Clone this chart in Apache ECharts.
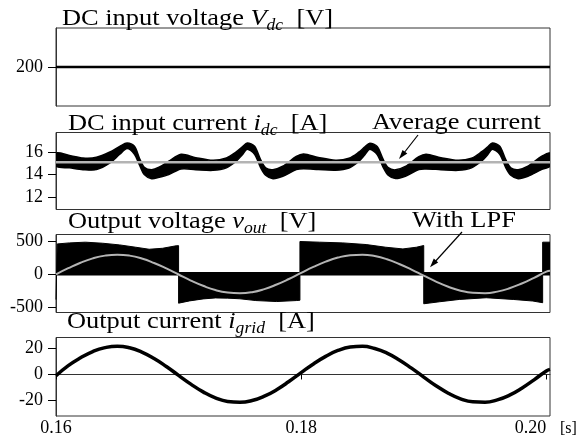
<!DOCTYPE html>
<html>
<head>
<meta charset="utf-8">
<script src="https://cdn.jsdelivr.net/npm/echarts@6/dist/echarts.min.js"></script>
<style>
html, body { margin: 0; padding: 0; background: #fff; }
#main { width: 579px; height: 445px; }
</style>
</head>
<body>
<div id="main"></div>
<script>
// time axis [s]
var xTicks = [0.16, 0.18, 0.20];

// DC input voltage
var vdcTime = [0.16, 0.2003];
var vdcValue = [200, 200];

// DC input current: upper / lower edge of the ripple band, plus average
var idcTime = [
	0.1600, 0.1611, 0.1622, 0.1633, 0.1644, 0.1652, 0.1658, 0.1664, 0.1668, 0.1672, 0.1678, 0.1684, 0.1692,
	0.1702, 0.1714, 0.1728, 0.1739, 0.1747, 0.1752, 0.1756, 0.1762, 0.1767, 0.1771, 0.1777, 0.1785, 0.1796,
	0.1802, 0.1814, 0.1828, 0.1839, 0.1847, 0.1852, 0.1856, 0.1862, 0.1867, 0.1871, 0.1877, 0.1885, 0.1896,
	0.1902, 0.1914, 0.1928, 0.1939, 0.1947, 0.1952, 0.1956, 0.1962, 0.1967, 0.1971, 0.1977, 0.1985, 0.1996,
	0.2003
];
var idcUpper = [
	15.90, 15.70, 15.47, 15.53, 16.00, 16.50, 16.80, 16.50, 15.47, 14.65, 14.44, 14.65, 15.18,
	15.80, 15.50, 15.26, 15.47, 16.00, 16.45, 16.80, 16.50, 15.30, 14.60, 14.44, 14.74, 15.60,
	15.82, 15.52, 15.28, 15.45, 15.98, 16.45, 16.78, 16.48, 15.32, 14.62, 14.42, 14.72, 15.58,
	15.80, 15.50, 15.27, 15.46, 16.00, 16.44, 16.80, 16.50, 15.30, 14.60, 14.44, 14.74, 15.60,
	15.90
];
var idcLower = [
	14.75, 14.60, 14.44, 14.44, 15.03, 15.80, 16.30, 15.80, 14.88, 14.00, 13.64, 13.76, 14.00,
	14.50, 14.44, 14.38, 14.60, 15.18, 15.75, 16.25, 15.80, 14.60, 13.94, 13.64, 13.85, 14.44,
	14.52, 14.45, 14.38, 14.58, 15.16, 15.75, 16.24, 15.78, 14.62, 13.95, 13.65, 13.86, 14.45,
	14.50, 14.44, 14.38, 14.60, 15.18, 15.74, 16.25, 15.80, 14.60, 13.94, 13.64, 13.85, 14.44,
	14.75
];
var idcAverage = 15.1;

// Output voltage: envelope of the PWM pulses (filled to 0)
var voutTime = [
	0.1600, 0.1601, 0.1601, 0.1611, 0.1624, 0.1638, 0.1652, 0.1665, 0.1676, 0.1687, 0.1698, 0.1700,
	0.1700, 0.1709, 0.1720, 0.1730, 0.1740, 0.1750, 0.1763, 0.1780, 0.1796, 0.1799,
	0.1799, 0.1815, 0.1834, 0.1853, 0.1869, 0.1883, 0.1894, 0.1900,
	0.1900, 0.1913, 0.1929, 0.1951, 0.1973, 0.1989, 0.1997,
	0.1997, 0.2003
];
var voutValue = [
	-390, -390, 458, 474, 485, 469, 443, 408, 377, 392, 430, 432,
	-445, -410, -380, -365, -368, -378, -405, -420, -405, -400,
	495, 485, 474, 449, 408, 382, 408, 434,
	-454, -423, -388, -362, -388, -412, -438,
	485, 485
];

// sampled sine-like waves (LPF output voltage and grid current)
var waveTime = [
	0.160, 0.161, 0.162, 0.163, 0.164, 0.165, 0.166, 0.167, 0.168, 0.169,
	0.170, 0.171, 0.172, 0.173, 0.174, 0.175, 0.176, 0.177, 0.178, 0.179,
	0.180, 0.181, 0.182, 0.183, 0.184, 0.185, 0.186, 0.187, 0.188, 0.189,
	0.190, 0.191, 0.192, 0.193, 0.194, 0.195, 0.196, 0.197, 0.198, 0.199,
	0.200, 0.2003
];
var lpfValue = [
	-5, 88, 172, 238, 280, 295, 280, 236, 168, 85,
	-8, -100, -180, -245, -283, -294, -277, -230, -160, -76,
	17, 108, 188, 250, 286, 294, 273, 225, 153, 68,
	-25, -116, -194, -254, -287, -293, -269, -218, -145, -58,
	35, 49
];
var igridValue = [
	-1, 6.7, 12.7, 17.5, 20.5, 21.6, 20.4, 17.1, 12.2, 6.1,
	-0.7, -7.4, -13.3, -17.9, -20.6, -21.2, -19.9, -16.6, -11.6, -5.4,
	1.4, 8.0, 13.8, 18.3, 20.9, 21.5, 19.8, 16.3, 11.1, 4.8,
	-2.0, -8.6, -14.3, -18.6, -20.9, -21.2, -19.4, -15.8, -10.5, -4.1,
	2.7, 3.9
];

function pairs(xs, ys) {
	return xs.map(function (x, i) { return [x, ys[i]]; });
}

var serif = '"Liberation Serif", "Times New Roman", serif';
var chart = echarts.init(document.getElementById('main'));

var grids = [
	{ top: 28, height: 78 },
	{ top: 132.5, height: 77 },
	{ top: 234.5, height: 78 },
	{ top: 337.5, height: 78.5 }
];
var yRanges = [
	{ min: 150, max: 250, ticks: [200] },
	{ min: 10.92, max: 17.72, ticks: [12, 14, 16] },
	{ min: -587, max: 602, ticks: [-500, 0, 500] },
	{ min: -31.7, max: 28.2, ticks: [-20, 0, 20] }
];

var titleRich = {
	n: { fontFamily: serif, fontSize: 24, lineHeight: 28, color: '#000' },
	v: { fontFamily: serif, fontSize: 24, fontStyle: 'italic', lineHeight: 28, color: '#000' },
	s: { fontFamily: serif, fontSize: 16, fontStyle: 'italic', lineHeight: 28, padding: [14, 0, 0, 0], color: '#000' }
};
function title(x, y, text) {
	return {
		type: 'text', x: x, y: y, scaleX: 1.1, z: 100,
		style: { text: text, rich: titleRich, verticalAlign: 'middle', align: 'left' }
	};
}

// ripple band of the DC current, drawn as one polygon through the axis scales
function renderBand(params, api) {
	var top = idcTime.map(function (t, i) { return api.coord([t, idcUpper[i]]); });
	var bottom = idcTime.map(function (t, i) { return api.coord([t, idcLower[i]]); }).reverse();
	return {
		type: 'polygon',
		shape: { points: top.concat(bottom), smooth: 0.3 },
		style: { fill: '#000', stroke: '#000', lineWidth: 1.5 }
	};
}

var option = {
	animation: false,
	backgroundColor: '#fff',
	grid: grids.map(function (g) {
		return {
			left: 56, right: 29, top: g.top, height: g.height,
			show: true, borderColor: '#333', borderWidth: 1, backgroundColor: 'transparent'
		};
	}),
	xAxis: grids.map(function (g, i) {
		var last = i === grids.length - 1;
		return {
			type: 'value', gridIndex: i, min: 0.16, max: 0.2003,
			show: last,
			axisLine: { show: true, lineStyle: { color: '#333', width: 1 } },
			axisTick: { show: last, customValues: xTicks, length: 5, lineStyle: { color: '#000' } },
			axisLabel: {
				show: last, customValues: xTicks, margin: 3, alignMaxLabel: 'right',
				fontFamily: serif, fontSize: 18, color: '#000',
				formatter: function (v) { return v.toFixed(2); }
			},
			splitLine: { show: false }
		};
	}),
	yAxis: yRanges.map(function (r, i) {
		return {
			type: 'value', gridIndex: i, min: r.min, max: r.max,
			axisLine: { show: true, lineStyle: { color: '#333', width: 1 } },
			axisTick: { show: true, customValues: r.ticks, length: 8, lineStyle: { color: '#000' } },
			axisLabel: { customValues: r.ticks, margin: 13, fontFamily: serif, fontSize: 18, color: '#000' },
			splitLine: { show: false }
		};
	}),
	series: [
		{
			type: 'line', xAxisIndex: 0, yAxisIndex: 0, showSymbol: false,
			data: pairs(vdcTime, vdcValue),
			lineStyle: { color: '#000', width: 2.5 }
		},
		{
			type: 'custom', xAxisIndex: 1, yAxisIndex: 1, clip: true,
			data: [[0.16, idcAverage]],
			renderItem: renderBand
		},
		{
			type: 'line', xAxisIndex: 1, yAxisIndex: 1, showSymbol: false, z: 5,
			data: [[0.16, idcAverage], [0.2003, idcAverage]],
			lineStyle: { color: '#b4b4b4', width: 2.5 }
		},
		{
			type: 'line', xAxisIndex: 2, yAxisIndex: 2, showSymbol: false,
			data: [[0.16, 5], [0.2003, 5]],
			lineStyle: { color: '#000', width: 3.5 }
		},
		{
			type: 'line', xAxisIndex: 2, yAxisIndex: 2, showSymbol: false,
			data: pairs(voutTime, voutValue),
			lineStyle: { color: '#000', width: 1 },
			areaStyle: { color: '#000', opacity: 1, origin: 0 }
		},
		{
			type: 'line', xAxisIndex: 2, yAxisIndex: 2, showSymbol: false, smooth: true, z: 5,
			data: pairs(waveTime, lpfValue),
			lineStyle: { color: '#b4b4b4', width: 2 }
		},
		{
			type: 'line', xAxisIndex: 3, yAxisIndex: 3, showSymbol: false, smooth: true,
			data: pairs(waveTime, igridValue),
			lineStyle: { color: '#000', width: 3.5 }
		}
	],
	graphic: [
		title(62, 19, '{n|DC input voltage }{v|V}{s|dc}{n|  [V]}'),
		title(68, 123.5, '{n|DC input current }{v|i}{s|dc}{n|  [A]}'),
		title(68, 222, '{n|Output voltage }{v|v}{s|out}{n|  [V]}'),
		title(67, 322, '{n|Output current }{v|i}{s|grid}{n|  [A]}'),
		title(372, 123, '{n|Average current}'),
		title(412, 221, '{n|With LPF}'),
		{ type: 'line', z: 100, shape: { x1: 418, y1: 135, x2: 402, y2: 155.5 }, style: { stroke: '#000', lineWidth: 1.2 } },
		{ type: 'polygon', z: 100, shape: { points: [[399, 159], [407.3, 153.5], [402.5, 149.9]] }, style: { fill: '#000' } },
		{ type: 'line', z: 100, shape: { x1: 462, y1: 232, x2: 433, y2: 264 }, style: { stroke: '#000', lineWidth: 1.2 } },
		{ type: 'polygon', z: 100, shape: { points: [[430, 267.3], [438.2, 262.6], [433.8, 258.6]] }, style: { fill: '#000' } },
		{ type: 'text', x: 560, y: 429, style: { text: '[s]', fontFamily: serif, fontSize: 16, fill: '#000', verticalAlign: 'middle' } }
	]
};

chart.setOption(option);
</script>
</body>
</html>
